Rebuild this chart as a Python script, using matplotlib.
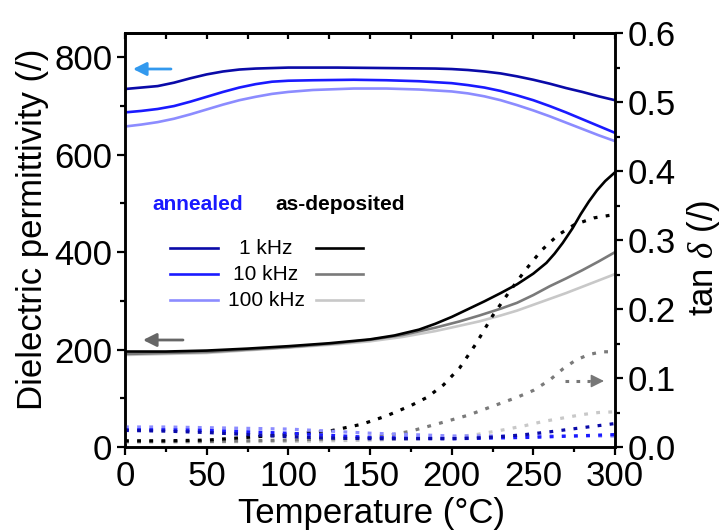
import matplotlib
matplotlib.use("Agg")
import matplotlib.pyplot as plt
from matplotlib.ticker import MultipleLocator, FormatStrFormatter
from matplotlib.lines import Line2D

plt.rcParams['font.family'] = ['Liberation Sans', 'DejaVu Sans']
plt.rcParams['mathtext.fontset'] = 'custom'
plt.rcParams['mathtext.rm'] = 'Liberation Sans'
plt.rcParams['mathtext.it'] = 'Liberation Serif:italic'

# ---------------- data ----------------
freq_labels = ['1 kHz', '10 kHz', '100 kHz']

# annealed permittivity (left axis)
T_ann_1k = [0, 10, 20, 30, 40, 50, 60, 70, 80, 90, 100, 130, 160, 190, 200, 210, 220, 230,
            240, 250, 260, 270, 280, 290, 300]
eps_ann_1k = [735, 738, 741, 748, 757, 765, 771, 775, 777, 778, 779, 779, 778, 777, 776, 774,
              771, 767, 761, 754, 746, 737, 729, 720, 712]
T_ann = [0, 10, 20, 30, 40, 50, 60, 70, 80, 90, 100, 115, 140, 160, 180, 200, 210, 220, 230,
         240, 250, 260, 270, 280, 290, 300]
eps_ann_10k = [687, 690, 694, 700, 709, 719, 729, 738, 745, 750, 752, 753, 754, 753, 751, 747,
               743, 738, 731, 722, 712, 700, 687, 673, 659, 645]
eps_ann_100k = [658, 662, 667, 674, 683, 693, 703, 712, 719, 725, 729, 733, 736, 736, 734, 730,
                726, 720, 712, 702, 691, 679, 666, 653, 640, 628]

# as-deposited permittivity (left axis)
T_dep_1k = [0, 25, 50, 75, 100, 125, 150, 165, 180, 190, 200, 210, 220, 230, 240, 250, 258,
            263, 268, 274, 279, 284, 289, 294, 300]
eps_dep_1k = [196, 196, 198, 202, 207, 213, 221, 229, 241, 253, 267, 283, 299, 316, 334, 356,
              378, 397, 419, 449, 478, 504, 527, 546, 564]
T_dep = [0, 50, 100, 130, 150, 170, 190, 205, 217, 230, 240, 250, 260, 270, 280, 290, 300]
eps_dep_10k = [191, 195, 205, 213, 220, 230, 245, 258, 270, 284, 296, 312, 330, 346, 363, 381, 400]
eps_dep_100k = [189, 193, 204, 211, 217, 226, 238, 249, 258, 270, 280, 292, 304, 316, 329, 342, 355]

# as-deposited tan delta (right axis)
T_tan_dep_1k = [0, 25, 50, 75, 100, 125, 145, 160, 175, 185, 195, 205, 215, 225, 235, 245,
                255, 265, 275, 287, 300]
tan_dep_1k = [0.009, 0.009, 0.010, 0.014, 0.018, 0.023, 0.033, 0.045, 0.060, 0.072, 0.090,
              0.115, 0.150, 0.190, 0.224, 0.256, 0.285, 0.307, 0.322, 0.332, 0.337]
T_tan_dep_10k = [0, 50, 100, 130, 150, 162, 175, 192, 210, 225, 240, 250, 260, 268, 276, 284,
                 292, 300]
tan_dep_10k = [0.008, 0.008, 0.010, 0.012, 0.014, 0.017, 0.023, 0.034, 0.046, 0.059, 0.072,
               0.082, 0.097, 0.113, 0.126, 0.134, 0.138, 0.138]
T_tan_dep_100k = [0, 100, 150, 180, 200, 215, 232, 245, 256, 268, 280, 290, 300]
tan_dep_100k = [0.007, 0.008, 0.010, 0.012, 0.014, 0.018, 0.025, 0.031, 0.037, 0.042, 0.047,
                0.050, 0.051]

# annealed tan delta (right axis)
T_tan_ann_1k = [0, 25, 50, 75, 100, 125, 150, 175, 200, 215, 230, 245, 260, 280, 300]
tan_ann_1k = [0.024, 0.023, 0.021, 0.018, 0.015, 0.013, 0.012, 0.012, 0.012, 0.013, 0.015,
              0.018, 0.022, 0.028, 0.034]
T_tan_ann_10k = [0, 25, 50, 75, 100, 125, 150, 175, 200, 225, 250, 275, 300]
tan_ann_10k = [0.025, 0.025, 0.024, 0.022, 0.020, 0.017, 0.014, 0.013, 0.012, 0.013, 0.014,
               0.016, 0.018]
T_tan_ann_100k = [0, 25, 50, 75, 100, 125, 150, 175, 200, 250, 300]
tan_ann_100k = [0.029, 0.029, 0.028, 0.027, 0.026, 0.023, 0.020, 0.018, 0.016, 0.016, 0.016]

ann_colors = ['#0a0aa8', '#1a1aff', '#8c8cff']
dep_colors = ['#000000', '#7a7a7a', '#c8c8c8']

# ---------------- figure ----------------
W, H = 723, 532
fig = plt.figure(figsize=(W / 100, H / 100), dpi=100)
ax = fig.add_axes([125 / W, 1 - 447 / H, 490 / W, 414 / H])
ax2 = ax.twinx()

LW = 1.9
dots = (1.2, 2.6)

# as-deposited permittivity
ax.plot(T_dep_1k, eps_dep_1k, color=dep_colors[0], lw=LW, zorder=3)
ax.plot(T_dep, eps_dep_10k, color=dep_colors[1], lw=LW, zorder=2)
ax.plot(T_dep, eps_dep_100k, color=dep_colors[2], lw=LW, zorder=1)
# annealed permittivity
ax.plot(T_ann, eps_ann_100k, color=ann_colors[2], lw=LW)
ax.plot(T_ann, eps_ann_10k, color=ann_colors[1], lw=LW)
ax.plot(T_ann_1k, eps_ann_1k, color=ann_colors[0], lw=LW)

# tan delta
for T, v, c in [(T_tan_dep_100k, tan_dep_100k, dep_colors[2]),
                (T_tan_dep_10k, tan_dep_10k, dep_colors[1]),
                (T_tan_dep_1k, tan_dep_1k, dep_colors[0]),
                (T_tan_ann_100k, tan_ann_100k, ann_colors[2]),
                (T_tan_ann_10k, tan_ann_10k, ann_colors[1]),
                (T_tan_ann_1k, tan_ann_1k, ann_colors[0])]:
    ln, = ax2.plot(T, v, color=c, lw=2.3)
    ln.set_dashes(dots)
    ln.set_dash_capstyle('butt')

ax.set_xlim(0, 300)
ax.set_ylim(0, 850)
ax2.set_ylim(0, 0.6)

FS = 25
ax.xaxis.set_major_locator(MultipleLocator(50))
ax.xaxis.set_minor_locator(MultipleLocator(25))
ax.yaxis.set_major_locator(MultipleLocator(200))
ax.yaxis.set_minor_locator(MultipleLocator(100))
ax2.yaxis.set_major_locator(MultipleLocator(0.1))
ax2.yaxis.set_minor_locator(MultipleLocator(0.05))
ax2.yaxis.set_major_formatter(FormatStrFormatter('%.1f'))

for a in (ax, ax2):
    a.tick_params(which='major', length=6, width=1.6, direction='out', labelsize=FS, pad=3)
    a.tick_params(which='minor', length=3.5, width=1.6, direction='out')
    for s in a.spines.values():
        s.set_linewidth(1.8)

top = ax.secondary_xaxis('top')
top.xaxis.set_major_locator(MultipleLocator(50))
top.xaxis.set_minor_locator(MultipleLocator(25))
top.tick_params(which='both', direction='in', length=4.5, width=1.6, labeltop=False)
top.spines['top'].set_linewidth(1.8)

fig.text(372 / W, 1 - 513 / H, 'Temperature (°C)', fontsize=FS, ha='center', va='center')
fig.text(33 / W, 1 - 229 / H, 'Dielectric permittivity (/)', fontsize=FS, rotation=90,
         ha='center', va='center')
fig.text(703 / W, 1 - 258 / H, r'tan $\delta$ (/)', fontsize=FS, rotation=90,
         ha='center', va='center')

# legend drawn manually
tr = ax.transAxes
def ax_x(px):
    return (px - 125) / 490
def ax_y(py):
    return (447 - py) / 414

ax.text(ax_x(152), ax_y(205), 'annealed', color='#1a1aff', fontsize=15,
        fontweight='bold', ha='left', va='center', transform=tr)
ax.text(ax_x(275), ax_y(205), 'as-deposited', color='black', fontsize=15,
        fontweight='bold', ha='left', va='center', transform=tr)
rows = [248, 274, 300]
for i, lab in enumerate(freq_labels):
    yy = ax_y(rows[i])
    ax.add_line(Line2D([ax_x(170), ax_x(218)], [yy, yy], color=ann_colors[i], lw=LW, transform=tr))
    ax.add_line(Line2D([ax_x(316), ax_x(363)], [yy, yy], color=dep_colors[i], lw=LW, transform=tr))
    ax.text(ax_x(266), yy, lab, fontsize=15, ha='center', va='center', transform=tr)

# arrows
ax.annotate('', xy=(ax_x(133), ax_y(69)), xytext=(ax_x(171), ax_y(69)), xycoords=tr,
            arrowprops=dict(arrowstyle='-|>', color='#3399ee', lw=2, mutation_scale=20,
                            shrinkA=0, shrinkB=0))
ax.annotate('', xy=(ax_x(143), ax_y(340)), xytext=(ax_x(183), ax_y(340)), xycoords=tr,
            arrowprops=dict(arrowstyle='-|>', color='#666666', lw=2, mutation_scale=20,
                            shrinkA=0, shrinkB=0))
arr_line = Line2D([ax_x(565), ax_x(590)], [ax_y(381), ax_y(381)], color='#777777', lw=2.2,
                  transform=tr)
arr_line.set_dashes((1.2, 2.4))
ax.add_line(arr_line)
ax.annotate('', xy=(ax_x(604), ax_y(381)), xytext=(ax_x(589), ax_y(381)), xycoords=tr,
            arrowprops=dict(arrowstyle='-|>', color='#777777', lw=1, mutation_scale=20,
                            shrinkA=0, shrinkB=0))

fig.savefig('out.png', dpi=100)
